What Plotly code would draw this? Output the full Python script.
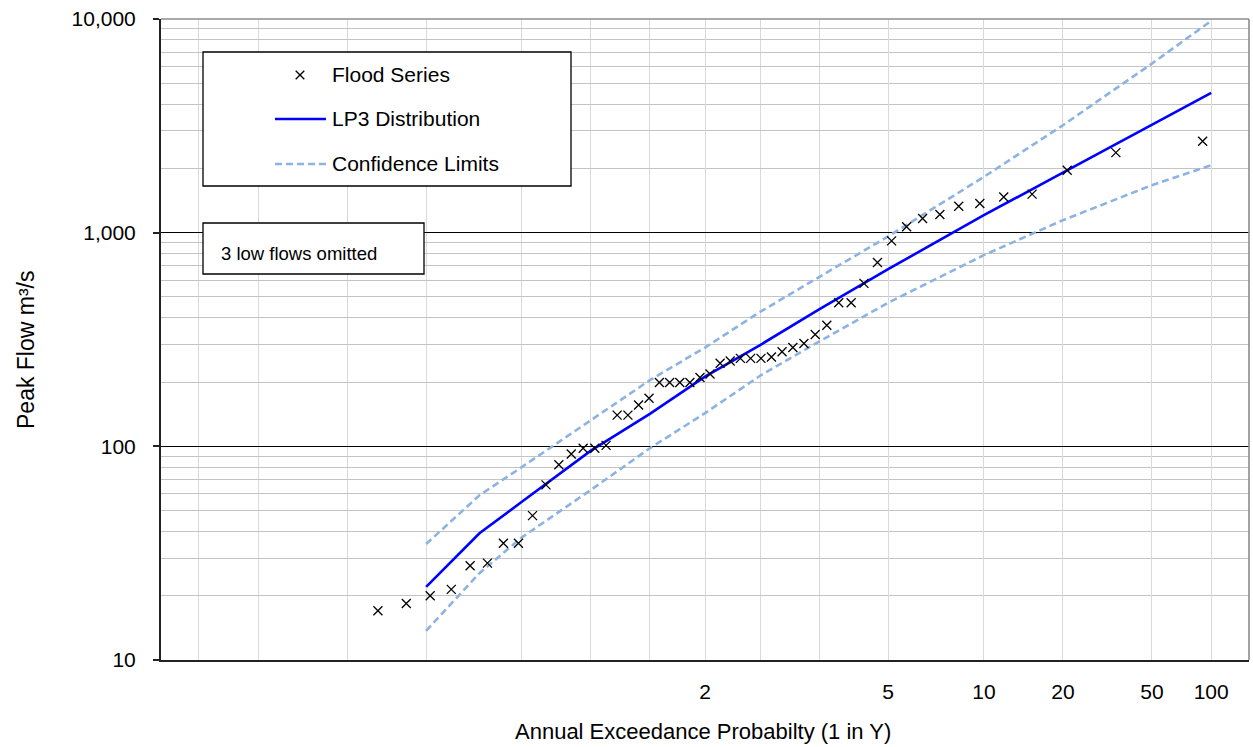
import plotly.graph_objects as go
from statistics import NormalDist

# ---------------- data ----------------
# Flood series: annual exceedance probability and peak flow (m3/s), largest first
flood_aep = [0.0111, 0.0295, 0.0480, 0.0664, 0.0849, 0.1033, 0.1218, 0.1402, 0.1587, 0.1771,
             0.1956, 0.2140, 0.2325, 0.2509, 0.2694, 0.2878, 0.3063, 0.3247, 0.3432, 0.3616,
             0.3801, 0.3985, 0.4170, 0.4354, 0.4539, 0.4723, 0.4908, 0.5092, 0.5277, 0.5461,
             0.5646, 0.5830, 0.6015, 0.6199, 0.6384, 0.6568, 0.6753, 0.6937, 0.7122, 0.7306,
             0.7491, 0.7675, 0.7860, 0.8044, 0.8229, 0.8413, 0.8598, 0.8782, 0.8967, 0.9151,
             0.9336]
flood_flow = [2680, 2370, 1960, 1515, 1470, 1370, 1330, 1217, 1165, 1065,
              915, 725, 579, 470, 470, 369, 334, 303, 290, 277,
              262, 258, 258, 258, 251, 245, 218, 210, 199, 199,
              199, 199, 168, 156, 140, 140, 101, 98, 98, 92,
              82, 66, 47.4, 35.2, 35.2, 28.4, 27.6, 21.4, 20.0, 18.4,
              17.0]

# Fitted LP3 distribution and confidence limits
line_aep = [0.9, 0.85, 0.8, 0.7, 0.6, 0.5, 0.4, 0.3, 0.2, 0.1, 0.05, 0.02, 0.01]
lp3_flow = [22.0, 39.2, 55.0, 95.5, 142, 212, 298, 437, 675, 1207, 1910, 3190, 4510]
upper_flow = [34.9, 59, 80, 133, 204, 290, 426, 620, 960, 1824, 3183, 6185, 9800]
lower_flow = [13.7, 25.5, 37.5, 62.5, 98, 143, 214, 309, 470, 785, 1144, 1668, 2070]

# Axis ticks / gridlines
grid_aep = [0.99, 0.98, 0.95, 0.9, 0.8, 0.7, 0.6, 0.4, 0.3]
label_aep = [0.5, 0.2, 0.1, 0.05, 0.02, 0.01]
label_text = ["2", "5", "10", "20", "50", "100"]
y_tick_vals = [10, 100, 1000, 10000]
y_tick_text = ["10", "100", "1,000", "10,000"]
y_minor_vals = [20, 30, 40, 50, 60, 70, 80, 90,
                200, 300, 400, 500, 600, 700, 800, 900,
                2000, 3000, 4000, 5000, 6000, 7000, 8000, 9000]

# ---------------- probability scale ----------------
_nd = NormalDist()


def z(aep):
    return _nd.inv_cdf(1.0 - aep)


def zs(values):
    return [z(v) for v in values]


FONT = "Liberation Sans, Arial, sans-serif"
W, H = 1253, 747
L, R, T, B = 161, 1249, 19, 660


def px_x(px):
    return (px - L) / (R - L)


def px_y(py):
    return (B - py) / (B - T)


CL_COLOR = "#8DB3E2"
LP3_COLOR = "#0000FF"
DASH = "7px,4px"

fig = go.Figure()

fig.add_trace(go.Scatter(x=zs(line_aep), y=lower_flow, mode="lines",
                         line=dict(color=CL_COLOR, width=2.6, dash=DASH),
                         name="Confidence Limits", showlegend=False))
fig.add_trace(go.Scatter(x=zs(line_aep), y=upper_flow, mode="lines",
                         line=dict(color=CL_COLOR, width=2.6, dash=DASH),
                         name="Confidence Limits", showlegend=False))
fig.add_trace(go.Scatter(x=zs(line_aep), y=lp3_flow, mode="lines",
                         line=dict(color=LP3_COLOR, width=2.6),
                         name="LP3 Distribution", showlegend=False))
fig.add_trace(go.Scatter(x=zs(flood_aep), y=flood_flow, mode="markers",
                         marker=dict(symbol="x-thin", size=9,
                                     line=dict(color="black", width=1.3)),
                         name="Flood Series", showlegend=False))

fig.update_xaxes(
    range=[-2.5, 2.5],
    tickmode="array", tickvals=zs(label_aep), ticktext=label_text,
    showgrid=True, gridcolor="#d9d9d9", gridwidth=1,
    minor=dict(tickmode="array", tickvals=zs(grid_aep), showgrid=True,
               gridcolor="#d9d9d9", gridwidth=1, ticks=""),
    showline=True, linecolor="#222222", linewidth=2,
    ticks="", zeroline=False,
    tickfont=dict(family=FONT, size=21, color="black"),
    ticklabelstandoff=12,
)
fig.update_yaxes(
    type="log", range=[1, 4],
    tickmode="array", tickvals=y_tick_vals, ticktext=y_tick_text,
    showgrid=True, gridcolor="#000000", gridwidth=1,
    minor=dict(tickmode="array", tickvals=y_minor_vals, showgrid=True,
               gridcolor="#c4c4c4", gridwidth=1.3, ticks=""),
    showline=True, linecolor="#222222", linewidth=2,
    ticks="outside", ticklen=6, tickwidth=1.5, tickcolor="#222222",
    zeroline=False,
    tickfont=dict(family=FONT, size=21, color="black"),
    ticklabelstandoff=13,
)

shapes = []
# plot frame top/right in grey
shapes.append(dict(type="line", xref="paper", yref="paper", x0=0, x1=1, y0=1, y1=1,
                   line=dict(color="#8c8c8c", width=1.6), layer="above"))
shapes.append(dict(type="line", xref="paper", yref="paper", x0=1, x1=1, y0=0, y1=1,
                   line=dict(color="#8c8c8c", width=1.6), layer="above"))
# legend box
shapes.append(dict(type="rect", xref="paper", yref="paper",
                   x0=px_x(203), x1=px_x(571), y0=px_y(186), y1=px_y(52),
                   fillcolor="white", line=dict(color="black", width=1.3), layer="above"))
# note box
shapes.append(dict(type="rect", xref="paper", yref="paper",
                   x0=px_x(203), x1=px_x(424), y0=px_y(274), y1=px_y(223),
                   fillcolor="white", line=dict(color="black", width=1.3), layer="above"))
# legend glyphs
shapes.append(dict(type="line", xref="paper", yref="paper",
                   x0=px_x(275), x1=px_x(326), y0=px_y(119), y1=px_y(119),
                   line=dict(color=LP3_COLOR, width=2.6), layer="above"))
shapes.append(dict(type="line", xref="paper", yref="paper",
                   x0=px_x(275), x1=px_x(326), y0=px_y(164), y1=px_y(164),
                   line=dict(color=CL_COLOR, width=2.6, dash=DASH), layer="above"))
cx, cy, hs = 300, 75, 4.3
shapes.append(dict(type="line", xref="paper", yref="paper",
                   x0=px_x(cx - hs), x1=px_x(cx + hs), y0=px_y(cy - hs), y1=px_y(cy + hs),
                   line=dict(color="black", width=1.3), layer="above"))
shapes.append(dict(type="line", xref="paper", yref="paper",
                   x0=px_x(cx - hs), x1=px_x(cx + hs), y0=px_y(cy + hs), y1=px_y(cy - hs),
                   line=dict(color="black", width=1.3), layer="above"))

annotations = []
for text, py in [("Flood Series", 75), ("LP3 Distribution", 119), ("Confidence Limits", 164)]:
    annotations.append(dict(text=text, xref="paper", yref="paper", x=px_x(330), y=px_y(py),
                            xanchor="left", yanchor="middle", showarrow=False,
                            font=dict(family=FONT, size=21, color="black")))
annotations.append(dict(text="3 low flows omitted", xref="paper", yref="paper",
                        x=px_x(219), y=px_y(253), xanchor="left", yanchor="middle",
                        showarrow=False, font=dict(family=FONT, size=18.5, color="black")))
annotations.append(dict(text="Annual Exceedance Probabilty (1 in Y)", xref="paper", yref="paper",
                        x=px_x(703), y=px_y(731), xanchor="center", yanchor="middle",
                        showarrow=False, font=dict(family=FONT, size=22, color="black")))
annotations.append(dict(text="Peak Flow m³/s", xref="paper", yref="paper",
                        x=px_x(26), y=px_y(350), xanchor="center", yanchor="middle",
                        textangle=-90, showarrow=False,
                        font=dict(family=FONT, size=23, color="black")))

fig.update_layout(
    width=W, height=H,
    margin=dict(l=L, r=W - R, t=T, b=H - B, pad=0),
    paper_bgcolor="white", plot_bgcolor="white",
    showlegend=False,
    shapes=shapes, annotations=annotations,
    font=dict(family=FONT, color="black"),
)

fig.write_html(
    "out.html",
    config={"displayModeBar": False},
    post_script="document.body.style.margin='0';document.body.style.padding='0';"
                "document.documentElement.style.overflow='hidden';",
)
